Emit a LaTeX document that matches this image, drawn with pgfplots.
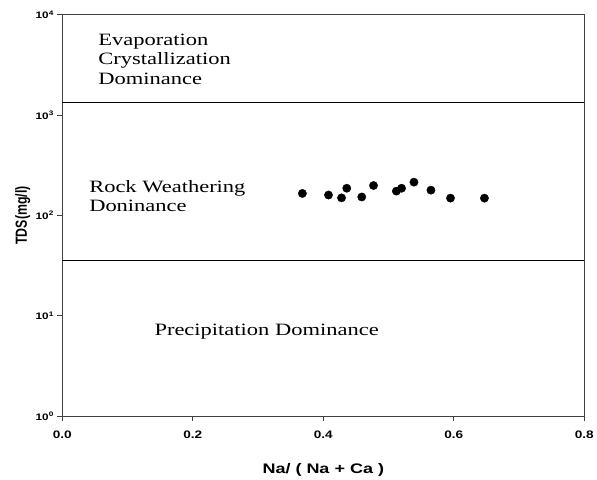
\documentclass[border=0pt]{standalone}
\usepackage{fontspec}
\setmainfont{Liberation Serif}[FakeStretch=1.3]
\newfontfamily\labelfont[FakeStretch=1.3]{Liberation Sans}
\newfontfamily\ylabelfont{Liberation Sans}
\newfontfamily\tickfont[FakeStretch=1.25]{Liberation Sans}
\usepackage{pgfplots}
\pgfplotsset{compat=1.18}
\begin{document}
\begin{tikzpicture}
\begin{axis}[
  name=ax,
  scale only axis,
  width=528pt, height=406pt,
  xmin=0, xmax=0.8,
  ymode=log, ymin=1, ymax=10000,
  clip=false,
  xtick={0,0.2,0.4,0.6,0.8},
  xticklabels={0.0,0.2,0.4,0.6,0.8},
  ytick={1,10,100,1000,10000},
  yticklabels={10\textsuperscript{0},10\textsuperscript{1},10\textsuperscript{2},10\textsuperscript{3},10\textsuperscript{4}},
  yminorticks=false,
  tick align=outside,
  tick pos=left,
  major tick length=5pt,
  axis line style={black!75, line width=0.9pt},
  tick style={black!75, line width=0.9pt},
  xticklabel style={font=\tickfont\bfseries\fontsize{11}{11}\selectfont, yshift=-6pt},
  yticklabel style={font=\tickfont\bfseries\fontsize{9.5}{9.5}\selectfont},
  xlabel={Na/ ( Na + Ca )},
  ylabel={TDS(mg/l)},
  xlabel style={font=\labelfont\bfseries\fontsize{14}{14}\selectfont, at={(axis description cs:0.5,-0.133)}, anchor=center},
  ylabel style={font=\ylabelfont\bfseries\fontsize{12.5}{12.5}\selectfont, at={(axis description cs:-0.0758,0.5)}, anchor=center, yscale=1.3, transform shape},
]
% boundary lines of the Gibbs zones
\addplot[black, line width=0.8pt] coordinates {(0,1350) (0.8,1350)};
\addplot[black, line width=0.8pt] coordinates {(0,36) (0.8,36)};
% samples
\addplot[only marks, mark=*, mark size=4.2pt, black] coordinates {
  (0.368,166) (0.408,160) (0.428,150) (0.436,187)
  (0.459,153) (0.477,199) (0.512,175) (0.520,187)
  (0.539,215) (0.565,179) (0.595,149) (0.647,149)
};
\node[anchor=west, align=left, font=\fontsize{17.5}{19.7}\selectfont] at (axis cs:0.05,3600) {Evaporation\\Crystallization\\Dominance};
\node[anchor=west, align=left, font=\fontsize{17.5}{19.7}\selectfont] at (axis cs:0.036,157) {Rock Weathering\\Doninance};
\node[anchor=west, align=left, font=\fontsize{17.5}{19.7}\selectfont] at (axis cs:0.136,7.0) {Precipitation Dominance};
\end{axis}
\path ([shift={(-63pt,-62pt)}]ax.south west) rectangle ([shift={(6pt,15pt)}]ax.north east);
\end{tikzpicture}
\end{document}
